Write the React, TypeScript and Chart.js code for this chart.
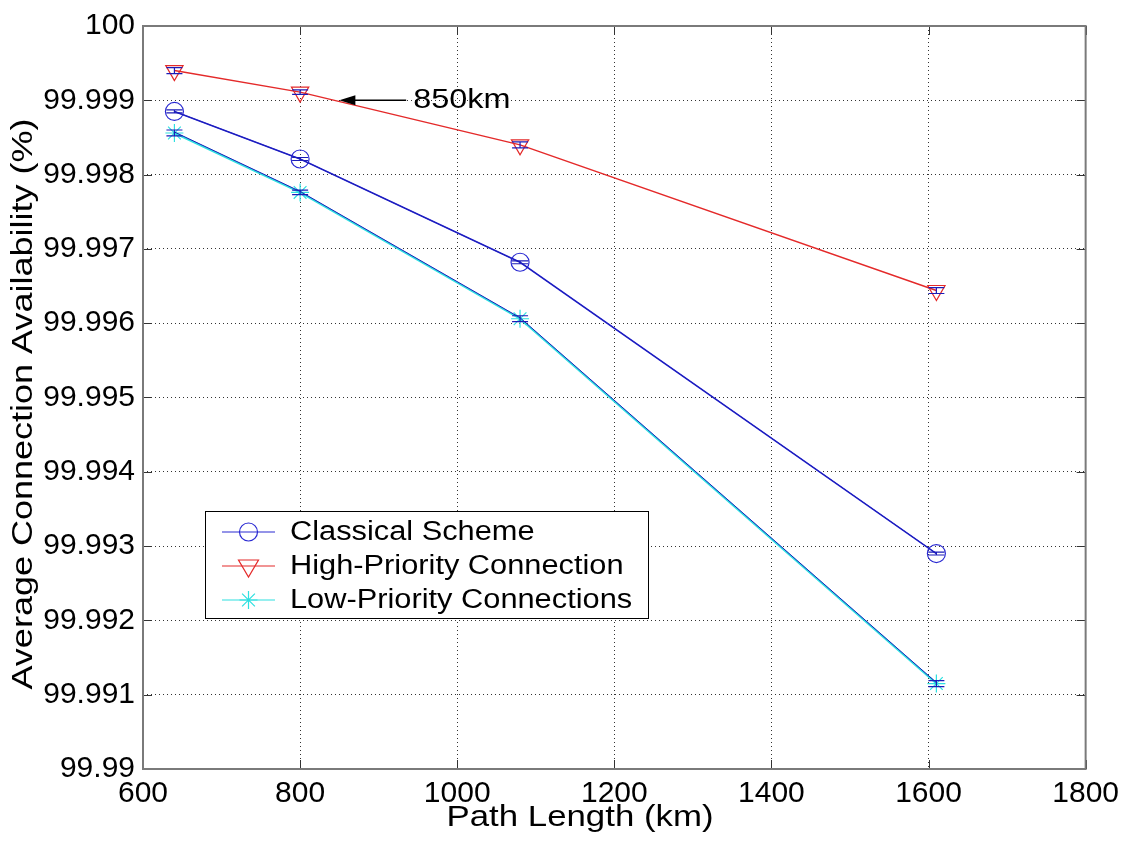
import React, { useEffect, useRef } from 'react';
import { Chart, registerables } from 'chart.js';

Chart.register(...registerables);

// ---- data ----
const pathLengths = [640, 800, 1080, 1610];
const classicalScheme = [99.99885, 99.99821, 99.99682, 99.9929];
const highPriority = [99.9994, 99.99911, 99.9984, 99.99644];
const lowPriority = [99.99856, 99.99776, 99.99606, 99.99115];
const classicalErr = [0.00002, 0.00002, 0.00002, 0.00002];
const highErr = [0.00004, 0.00003, 0.00004, 0.00004];
const lowErr = [0.00004, 0.00003, 0.00004, 0.00004];
const seriesLabels = ['Classical Scheme', 'High-Priority Connection', 'Low-Priority Connections'];
const xTicks = [600, 800, 1000, 1200, 1400, 1600, 1800];
const yTicks = [99.99, 99.991, 99.992, 99.993, 99.994, 99.995, 99.996, 99.997, 99.998, 99.999, 100];
const xTitle = 'Path Length (km)';
const yTitle = 'Average Connection Availability (%)';
const annotationText = '850km';
const annotationHead = [850, 99.999];
const annotationTail = [935, 99.999];

const FONT = '"Liberation Sans", Arial, Helvetica, sans-serif';
const BLUE = '#2a2ad2';
const RED = '#e42a2a';
const CYAN = '#2ee0e0';
const ERR_BLUE = '#1c1cb8';

const seriesValues = [classicalScheme, highPriority, lowPriority];
const seriesErrors = [classicalErr, highErr, lowErr];

const fmt = (v: number) => String(Number(Number(v).toFixed(3)));

function stretchedText(ctx: any, text: string, x: number, y: number, size: number, align: string, sx: number, rot = 0) {
  ctx.save();
  ctx.translate(x, y);
  if (rot) ctx.rotate(rot);
  ctx.scale(sx, 1);
  ctx.font = `${size}px ${FONT}`;
  ctx.textAlign = align;
  ctx.textBaseline = 'middle';
  ctx.fillStyle = '#000';
  ctx.fillText(text, 0, 0);
  ctx.restore();
}

const overlayPlugin = {
  id: 'overlay',
  afterDatasetsDraw(chart: any) {
    const ctx = chart.ctx;
    const xs = chart.scales.x;
    const ys = chart.scales.y;
    ctx.save();
    [0, 2].forEach((si) => {
      ctx.beginPath();
      ctx.strokeStyle = ERR_BLUE;
      ctx.lineWidth = 1;
      seriesValues[si].forEach((v, i) => {
        const px = xs.getPixelForValue(pathLengths[i]);
        const py = ys.getPixelForValue(v) - (si === 2 ? 1 : 0);
        if (i === 0) ctx.moveTo(px, py);
        else ctx.lineTo(px, py);
      });
      ctx.stroke();
    });
    seriesValues.forEach((vals, si) => {
      vals.forEach((v, i) => {
        const e = seriesErrors[si][i];
        const px = xs.getPixelForValue(pathLengths[i]);
        const top = ys.getPixelForValue(v + e);
        const bot = ys.getPixelForValue(v - e);
        ctx.strokeStyle = ERR_BLUE;
        ctx.lineWidth = 1.2;
        ctx.beginPath();
        ctx.moveTo(px, top);
        ctx.lineTo(px, bot);
        ctx.moveTo(px - 8, top);
        ctx.lineTo(px + 8, top);
        ctx.moveTo(px - 8, bot);
        ctx.lineTo(px + 8, bot);
        ctx.stroke();
      });
    });
    ctx.restore();
  },
  afterDraw(chart: any) {
    const ctx = chart.ctx;
    const ca = chart.chartArea;
    const xs = chart.scales.x;
    const ys = chart.scales.y;
    ctx.save();
    ctx.strokeStyle = '#333';
    ctx.lineWidth = 1;
    ctx.beginPath();
    xTicks.forEach((t) => {
      const px = Math.round(xs.getPixelForValue(t)) + 0.5;
      ctx.moveTo(px, ca.bottom);
      ctx.lineTo(px, ca.bottom - 9);
      ctx.moveTo(px, ca.top);
      ctx.lineTo(px, ca.top + 9);
    });
    yTicks.forEach((t) => {
      const py = Math.round(ys.getPixelForValue(t)) + 0.5;
      ctx.moveTo(ca.left, py);
      ctx.lineTo(ca.left + 9, py);
      ctx.moveTo(ca.right, py);
      ctx.lineTo(ca.right - 9, py);
    });
    ctx.stroke();
    ctx.strokeStyle = '#7a7a7a';
    ctx.lineWidth = 2;
    ctx.strokeRect(ca.left, ca.top, ca.right - ca.left, ca.bottom - ca.top);

    // axis titles
    stretchedText(ctx, xTitle, ca.left + 437, 818, 29, 'center', 1.2);
    stretchedText(ctx, yTitle, 24, ca.top + 378, 30, 'center', 1.2, -Math.PI / 2);

    // annotation arrow
    const hx = xs.getPixelForValue(annotationHead[0]);
    const hy = ys.getPixelForValue(annotationHead[1]);
    const tx = xs.getPixelForValue(annotationTail[0]);
    const ty = ys.getPixelForValue(annotationTail[1]);
    ctx.strokeStyle = '#000';
    ctx.fillStyle = '#000';
    ctx.lineWidth = 1.5;
    ctx.beginPath();
    ctx.moveTo(tx, ty);
    ctx.lineTo(hx + 14, hy);
    ctx.stroke();
    ctx.beginPath();
    ctx.moveTo(hx, hy);
    ctx.lineTo(hx + 16, hy - 5);
    ctx.lineTo(hx + 16, hy + 5);
    ctx.closePath();
    ctx.fill();
    stretchedText(ctx, annotationText, tx + 7, ty, 27, 'left', 1.2);

    // legend
    const lx = ca.left + 62;
    const ly = ca.top + 485;
    const lw = 443;
    const lh = 107;
    ctx.fillStyle = '#fff';
    ctx.fillRect(lx, ly, lw, lh);
    ctx.strokeStyle = '#000';
    ctx.lineWidth = 1;
    ctx.strokeRect(lx + 0.5, ly + 0.5, lw, lh);
    const colors = [BLUE, RED, CYAN];
    seriesLabels.forEach((label, i) => {
      const cy = ly + 21 + i * 34;
      const x0 = lx + 17;
      const x1 = lx + 70;
      const mx = (x0 + x1) / 2;
      ctx.strokeStyle = colors[i];
      ctx.lineWidth = 1.2;
      ctx.beginPath();
      ctx.moveTo(x0, cy);
      ctx.lineTo(x1, cy);
      ctx.stroke();
      ctx.beginPath();
      if (i === 0) {
        ctx.arc(mx, cy, 9, 0, Math.PI * 2);
      } else if (i === 1) {
        ctx.moveTo(mx - 10, cy - 6);
        ctx.lineTo(mx + 10, cy - 6);
        ctx.lineTo(mx, cy + 11);
        ctx.closePath();
      } else {
        ctx.moveTo(mx, cy - 9);
        ctx.lineTo(mx, cy + 9);
        ctx.moveTo(mx - 9, cy);
        ctx.lineTo(mx + 9, cy);
        ctx.moveTo(mx - 6.4, cy - 6.4);
        ctx.lineTo(mx + 6.4, cy + 6.4);
        ctx.moveTo(mx - 6.4, cy + 6.4);
        ctx.lineTo(mx + 6.4, cy - 6.4);
      }
      ctx.stroke();
      stretchedText(ctx, label, lx + 85, cy + 1, 27, 'left', 1.14);
    });
    ctx.restore();
  },
};

export default function App() {
  const ref = useRef<HTMLCanvasElement | null>(null);
  useEffect(() => {
    document.body.style.margin = '0';
    document.body.style.background = '#fff';
    const canvas = ref.current!;
    const pointStyles = ['circle', 'triangle', 'star'];
    const colors = [BLUE, RED, CYAN];
    const radii = [9, 10, 9];
    const chart = new Chart(canvas, {
      type: 'scatter',
      data: {
        datasets: seriesValues.map((vals, si) => ({
          label: seriesLabels[si],
          data: vals.map((v, i) => ({ x: pathLengths[i], y: v })),
          showLine: true,
          borderColor: colors[si],
          backgroundColor: 'rgba(0,0,0,0)',
          borderWidth: si === 2 ? 2 : 1.5,
          pointStyle: pointStyles[si] as any,
          pointRotation: si === 1 ? 180 : 0,
          pointRadius: radii[si],
          pointBorderColor: colors[si],
          pointBorderWidth: 1.2,
          pointBackgroundColor: 'rgba(0,0,0,0)',
        })),
      },
      options: {
        animation: false,
        responsive: false,
        devicePixelRatio: 1,
        layout: { padding: { left: 0, right: 34, top: 22, bottom: 0 } },
        plugins: { legend: { display: false }, tooltip: { enabled: false } },
        scales: {
          x: {
            type: 'linear',
            min: 600,
            max: 1800,
            afterBuildTicks: (s: any) => {
              s.ticks = xTicks.map((v) => ({ value: v }));
            },
            afterFit: (s: any) => {
              s.height = 74;
            },
            grid: { color: '#333', lineWidth: 1, drawTicks: false },
            border: { display: false, dash: [1, 3] },
            ticks: {
              color: '#000',
              font: { family: FONT, size: 30 },
              padding: 7,
              maxRotation: 0,
              callback: (v: any) => fmt(v),
            },
            title: { display: false },
          },
          y: {
            type: 'linear',
            min: 99.99,
            max: 100,
            afterBuildTicks: (s: any) => {
              s.ticks = yTicks.map((v) => ({ value: v }));
            },
            afterFit: (s: any) => {
              s.width = 143;
            },
            grid: { color: '#333', lineWidth: 1, drawTicks: false },
            border: { display: false, dash: [1, 3] },
            ticks: {
              color: '#000',
              font: { family: FONT, size: 30 },
              padding: 8,
              callback: (v: any) => fmt(v),
            },
            title: { display: false },
          },
        },
      },
      plugins: [overlayPlugin],
    });
    return () => chart.destroy();
  }, []);
  return <canvas ref={ref} width={1126} height={843} style={{ display: 'block' }} />;
}
